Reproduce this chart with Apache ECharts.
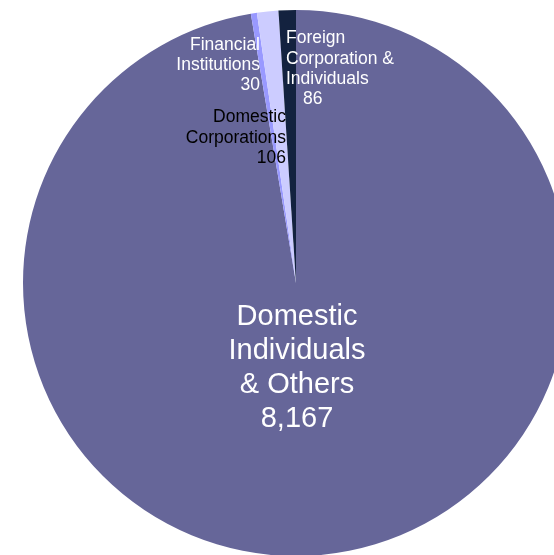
<!DOCTYPE html>
<html>
<head>
<meta charset="utf-8">
<script src="https://cdn.jsdelivr.net/npm/echarts@6/dist/echarts.min.js"></script>
<style>
  html, body { margin: 0; padding: 0; background: #ffffff; }
  #chart { width: 554px; height: 555px; }
</style>
</head>
<body>
<div id="chart"></div>
<script>
// Shareholder categories, in clockwise order starting at 12 o'clock
const categories = [
  'Domestic Individuals & Others',
  'Financial Institutions',
  'Domestic Corporations',
  'Foreign Corporation & Individuals'
];
// Wrapped name lines used for the slice labels
const nameLines = [
  ['Domestic', 'Individuals', '& Others'],
  ['Financial', 'Institutions'],
  ['Domestic', 'Corporations'],
  ['Foreign', 'Corporation &', 'Individuals']
];
const values = [8167, 30, 106, 86];

const palette = ['#666699', '#9999ff', '#ccccff', '#13223f'];
const FONT = '"Liberation Sans", Arial, sans-serif';

const chart = echarts.init(document.getElementById('chart'), null, { renderer: 'canvas' });

const CX = 296, CY = 283, R = 273;

// label anchors relative to the pie center
const labelPlace = [
  { dx: 1,   dy: 85,   align: 'center' },
  { dx: -36, dy: -218, align: 'right' },
  { dx: -10, dy: -145, align: 'right' },
  { dx: -10, dy: -214, align: 'left' }
];
const labelStyle = [
  { color: '#ffffff', fontSize: 29, lineHeight: 34 },
  { color: '#ffffff', fontSize: 17.5, lineHeight: 20 },
  { color: '#000000', fontSize: 17.5, lineHeight: 20.5 },
  { color: '#ffffff', fontSize: 17.5, lineHeight: 20.3 }
];

const data = categories.map((name, i) => ({
  name: name,
  value: values[i],
  itemStyle: { color: palette[i] },
  label: {
    color: labelStyle[i].color,
    fontSize: labelStyle[i].fontSize,
    lineHeight: labelStyle[i].lineHeight,
    align: labelPlace[i].align,
    rich: {
      v: {
        color: labelStyle[i].color,
        fontSize: labelStyle[i].fontSize,
        lineHeight: labelStyle[i].lineHeight,
        fontFamily: FONT,
        padding: i === 3 ? [0, 0, 0, 17] : 0
      }
    }
  }
}));

chart.setOption({
  backgroundColor: '#ffffff',
  animation: false,
  series: [{
    type: 'pie',
    center: [CX, CY],
    radius: [0, R],
    startAngle: 90,
    clockwise: true,
    avoidLabelOverlap: false,
    silent: true,
    itemStyle: { borderWidth: 0 },
    labelLine: { show: false },
    label: {
      show: true,
      position: 'inside',
      fontFamily: FONT,
      formatter: (p) => {
        const i = p.dataIndex;
        const num = p.value.toLocaleString('en-US');
        return nameLines[i].join('\n') + '\n{v|' + num + '}';
      }
    },
    labelLayout: (p) => {
      const pl = labelPlace[p.dataIndex];
      return {
        x: CX + pl.dx,
        y: CY + pl.dy,
        align: pl.align,
        verticalAlign: 'middle',
        hideOverlap: false
      };
    },
    data: data
  }]
});
</script>
</body>
</html>
